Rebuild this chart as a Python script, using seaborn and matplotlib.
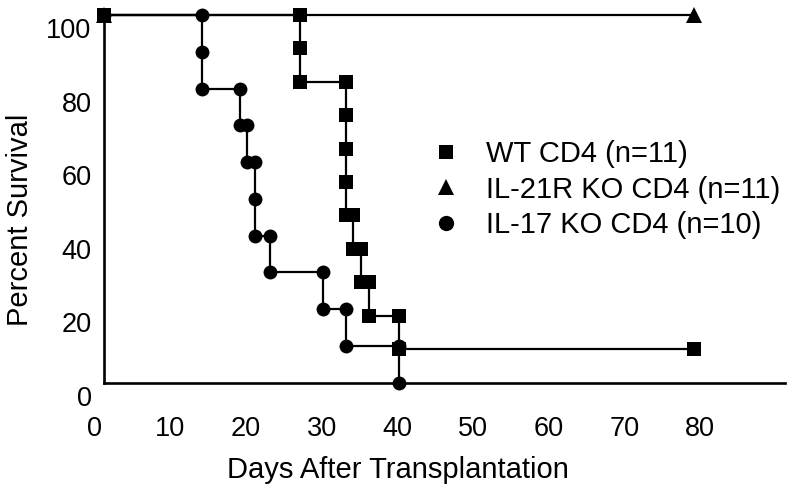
import matplotlib
matplotlib.use("Agg")
import matplotlib.pyplot as plt
from matplotlib.lines import Line2D
from matplotlib.transforms import ScaledTranslation
import seaborn as sns

# ---- data (Kaplan-Meier step corners) ----
days_wt = [0, 26, 26, 26, 32, 32, 32, 32, 32, 33, 33, 34, 34, 35, 35, 39, 39, 78]
pct_wt = [100, 100, 90.9, 81.8, 81.8, 72.7, 63.6, 54.5, 45.5, 45.5, 36.4, 36.4,
          27.3, 27.3, 18.2, 18.2, 9.1, 9.1]

days_il21r = [0, 78]
pct_il21r = [100, 100]

days_il17 = [0, 13, 13, 13, 18, 18, 19, 19, 20, 20, 20, 22, 22, 29, 29, 32, 32, 39, 39]
pct_il17 = [100, 100, 90, 80, 80, 70, 70, 60, 60, 50, 40, 40, 30, 30, 20, 20, 10, 10, 0]

labels = ["WT CD4 (n=11)", "IL-21R KO CD4 (n=11)", "IL-17 KO CD4 (n=10)"]
xticks = [0, 10, 20, 30, 40, 50, 60, 70, 80]
yticks = [0, 20, 40, 60, 80, 100]

sns.set_style("white")
plt.rcParams["font.family"] = ["Liberation Sans", "DejaVu Sans"]
plt.rcParams["text.color"] = "black"
plt.rcParams["axes.labelcolor"] = "black"
plt.rcParams["xtick.color"] = "black"
plt.rcParams["ytick.color"] = "black"

fig = plt.figure(figsize=(7.95, 4.95), dpi=100)
ax = fig.add_axes([0.1302, 0.2269, 0.8572, 0.7428])

lw = 1.6
common = dict(estimator=None, sort=False, color="black", lw=lw, ax=ax,
              clip_on=False, markeredgewidth=0, legend=False)
sns.lineplot(x=days_il17, y=pct_il17, marker="o", markersize=10, zorder=3, **common)
sns.lineplot(x=days_il21r, y=pct_il21r, marker="^", markersize=11, zorder=4, **common)
sns.lineplot(x=days_wt, y=pct_wt, marker="s", markersize=10, zorder=5, **common)

ax.set_xlim(0, 90)
ax.set_ylim(0, 100)
ax.set_xticks(xticks)
ax.set_yticks(yticks)
ax.set_xticklabels([str(v) for v in xticks])
ax.set_yticklabels([str(v) for v in yticks])

for s in ["top", "right"]:
    ax.spines[s].set_visible(False)
for s in ["left", "bottom"]:
    ax.spines[s].set_linewidth(1.9)
    ax.spines[s].set_color("black")

ax.tick_params(axis="x", direction="out", length=5.8, width=1.5, pad=18,
               labelsize=19.5, colors="black", labelcolor="black")
ax.tick_params(axis="y", direction="out", length=3.6, width=1.5, pad=5,
               labelsize=19.5, colors="black", labelcolor="black")

# reference tick labels sit a bit lower (y) / left (x) of their ticks
dy = ScaledTranslation(0, -13 / 100, fig.dpi_scale_trans)
for lab in ax.get_yticklabels():
    lab.set_transform(lab.get_transform() + dy)
dx = ScaledTranslation(-9 / 100, 0, fig.dpi_scale_trans)
for lab in ax.get_xticklabels():
    lab.set_transform(lab.get_transform() + dx)

ax.set_xlabel("Days After Transplantation", fontsize=21, va="center", color="black")
ax.set_ylabel("Percent Survival", fontsize=21, va="center", color="black")
ax.xaxis.set_label_coords(0.4314, -0.2374)
ax.yaxis.set_label_coords(-0.1225, 0.4425)

handles = [
    Line2D([], [], color="black", marker="s", linestyle="none", markersize=10.5, markeredgewidth=0),
    Line2D([], [], color="black", marker="^", linestyle="none", markersize=11, markeredgewidth=0),
    Line2D([], [], color="black", marker="o", linestyle="none", markersize=11, markeredgewidth=0),
]
leg = ax.legend(handles, labels, loc="upper left",
                bbox_to_anchor=(431 / 795, 1 - 140 / 495), bbox_transform=fig.transFigure,
                frameon=False, fontsize=21, handlelength=1.0, handletextpad=0.9,
                labelspacing=0.26, borderpad=0, borderaxespad=0)
for t in leg.get_texts():
    t.set_color("black")

fig.savefig("out.png", dpi=100)
